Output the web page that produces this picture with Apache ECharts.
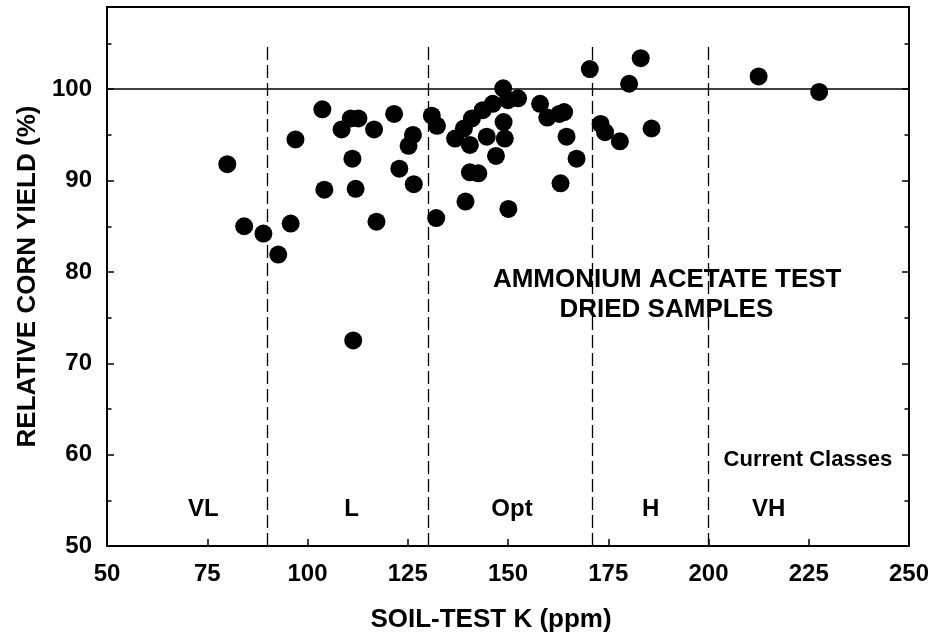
<!DOCTYPE html>
<html>
<head>
<meta charset="utf-8">
<script src="https://cdn.jsdelivr.net/npm/echarts@6/dist/echarts.min.js"></script>
<style>
  html, body { margin: 0; padding: 0; background: #fff; }
  #chart { width: 933px; height: 638px; }
</style>
</head>
<body>
<div id="chart"></div>
<script>
// soil-test K (ppm) vs relative corn yield (%)
const soilK = [
  80.0, 84.2, 89.0,
  92.7, 95.8, 97.0, 103.7, 104.2, 108.5, 110.8, 112.7, 111.2, 112.0, 111.4,
  116.6, 117.2, 121.6, 126.3, 125.2, 122.9, 126.5,
  131.0, 132.3, 132.1, 136.8, 139.0, 140.5, 141.0, 143.7, 146.2, 148.8,
  150.0, 152.5, 148.9, 144.7, 149.2, 147.0, 140.5, 142.6, 139.4, 150.1,
  158.0, 159.8, 162.8, 164.0, 164.6, 167.1, 163.1, 170.4,
  173.1, 174.2, 177.9, 180.2, 183.1, 185.8,
  212.5, 227.6
];
const relYield = [
  91.8, 85.0, 84.2,
  81.9, 85.3, 94.5, 97.8, 89.0, 95.6, 96.8, 96.8, 92.4, 89.1, 72.5,
  95.6, 85.5, 97.3, 95.0, 93.8, 91.3, 89.6,
  97.1, 96.0, 85.9, 94.6, 95.7, 93.9, 96.8, 97.7, 98.4, 100.1,
  98.8, 99.0, 96.4, 94.8, 94.6, 92.7, 90.9, 90.8, 87.7, 86.9,
  98.4, 96.9, 97.3, 97.5, 94.8, 92.4, 89.7, 102.2,
  96.2, 95.3, 94.3, 100.6, 103.4, 95.7,
  101.4, 99.7
];

// class boundaries and class names
const classBounds = [90, 130, 171, 200];
const classNames = ['VL', 'L', 'Opt', 'H', 'VH'];
const classLabelX = [74, 111, 151, 185.6, 215];
const classLabelY = 54;
const classLineTop = 105;
const refYield = 100;

// free text notes
const noteText = ['AMMONIUM ACETATE TEST', 'DRIED SAMPLES', 'Current Classes'];
const noteX = [189.7, 189.5, 224.8];
const noteY = [79.1, 75.8, 59.4];
const noteSize = [26, 26, 22];

const FONT = '"Liberation Sans", Arial, sans-serif';

let chart = echarts.init(document.getElementById('chart'));

let points = soilK.map((k, i) => [k, relYield[i]]);

let boundLines = classBounds.map(b => [
  { coord: [b, 50] },
  { coord: [b, classLineTop] }
]);

let classItems = classNames.map((n, i) => ({ name: n, value: [classLabelX[i], classLabelY] }));
let noteItems = noteText.map((t, i) => ({
  name: t,
  value: [noteX[i], noteY[i]],
  label: { fontSize: noteSize[i] }
}));

const yBase = {
  type: 'value', min: 50, max: 109, splitLine: { show: false },
  axisLine: { show: true, lineStyle: { color: '#000', width: 2 } }
};

chart.setOption({
  animation: false,
  backgroundColor: '#fff',
  grid: { left: 107, right: 24, top: 7, bottom: 89, show: true, borderColor: '#000', borderWidth: 2 },
  xAxis: {
    type: 'value', min: 50, max: 250, interval: 25,
    name: 'SOIL-TEST K (ppm)', nameLocation: 'middle', nameGap: 61,
    nameTextStyle: { fontFamily: FONT, fontWeight: 'bold', fontSize: 26, color: '#000', padding: [0, 34, 0, 0] },
    axisLine: { lineStyle: { color: '#000', width: 2 } },
    axisTick: { inside: true, length: 7, lineStyle: { color: '#000', width: 1.5 } },
    axisLabel: { margin: 16, fontFamily: FONT, fontWeight: 'bold', fontSize: 24, color: '#000' },
    splitLine: { show: false }
  },
  yAxis: [
    Object.assign({}, yBase, {
      position: 'left', interval: 10,
      name: 'RELATIVE CORN YIELD (%)', nameLocation: 'middle', nameGap: 66,
      nameTextStyle: { fontFamily: FONT, fontWeight: 'bold', fontSize: 26, color: '#000' },
      axisTick: { inside: true, length: 7, lineStyle: { color: '#000', width: 1.5 } },
      axisLabel: {
        margin: 15, fontFamily: FONT, fontWeight: 'bold', fontSize: 24, color: '#000',
        formatter: v => (v % 10 === 0 ? String(v) : '')
      }
    }),
    Object.assign({}, yBase, {
      position: 'left', interval: 5,
      axisTick: { inside: true, length: 4.5, lineStyle: { color: '#000', width: 1.5 } },
      axisLabel: { show: false }
    }),
    Object.assign({}, yBase, {
      position: 'right', interval: 10,
      axisTick: { inside: true, length: 7, lineStyle: { color: '#000', width: 1.5 } },
      axisLabel: { show: false }
    }),
    Object.assign({}, yBase, {
      position: 'right', interval: 5,
      axisTick: { inside: true, length: 4.5, lineStyle: { color: '#000', width: 1.5 } },
      axisLabel: { show: false }
    })
  ],
  series: [
    {
      name: 'yield',
      type: 'scatter',
      yAxisIndex: 0,
      symbol: 'circle',
      symbolSize: 18,
      itemStyle: { color: '#000', opacity: 1 },
      data: points,
      markLine: {
        silent: true,
        symbol: ['none', 'none'],
        label: { show: false },
        data: [
          [{ coord: [50, refYield], lineStyle: { type: 'solid', width: 1.5, color: '#000' } },
           { coord: [250, refYield] }]
        ].concat(boundLines.map(l => [
          Object.assign({ lineStyle: { type: [13, 5], width: 1.3, color: '#000' } }, l[0]), l[1]
        ]))
      }
    },
    {
      name: 'classes',
      type: 'scatter',
      yAxisIndex: 0,
      symbolSize: 0,
      silent: true,
      itemStyle: { color: '#000', opacity: 1 },
      label: {
        show: true, position: 'inside', formatter: '{b}',
        fontFamily: FONT, fontWeight: 'bold', fontSize: 24, color: '#000'
      },
      data: classItems
    },
    {
      name: 'notes',
      type: 'scatter',
      yAxisIndex: 0,
      symbolSize: 0,
      silent: true,
      itemStyle: { color: '#000', opacity: 1 },
      label: {
        show: true, position: 'inside', formatter: '{b}',
        fontFamily: FONT, fontWeight: 'bold', color: '#000'
      },
      data: noteItems
    }
  ]
});
</script>
</body>
</html>
